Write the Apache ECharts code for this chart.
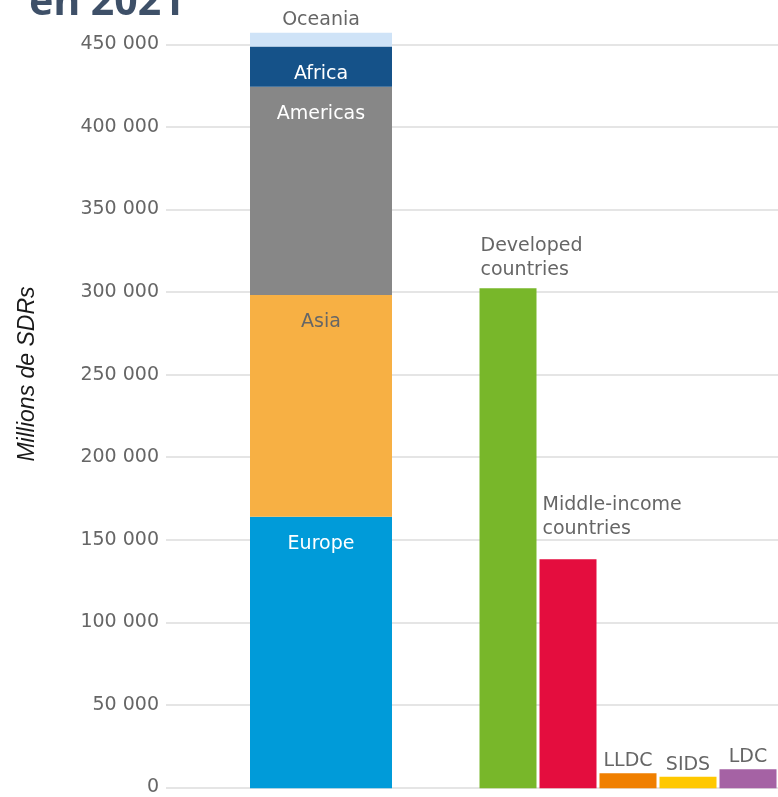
<!DOCTYPE html>
<html>
<head>
<meta charset="utf-8">
<script src="https://cdn.jsdelivr.net/npm/echarts@6/dist/echarts.min.js"></script>
<style>
  html, body { margin: 0; padding: 0; background: #ffffff; }
  #chart { width: 778px; height: 797px; }
</style>
</head>
<body>
<div id="chart"></div>
<script>
// SDR allocation in 2021 (millions of SDRs)

// Stacked regional breakdown (bottom to top)
const regionNames = ['Europe', 'Asia', 'Americas', 'Africa', 'Oceania'];
const regionValues = [164300, 134100, 126000, 24200, 8400];
const regionColors = ['#009bd9', '#f7b044', '#878787', '#155289', '#cfe3f7'];
const regionLabelColors = ['#ffffff', '#666666', '#ffffff', '#ffffff', '#666666'];

// Country groups
const groupNames = ['Developed\ncountries', 'Middle-income\ncountries', 'LLDC', 'SIDS', 'LDC'];
const groupValues = [302400, 138500, 9100, 7000, 11500];
const groupColors = ['#78b72a', '#e40d3e', '#f07f00', '#ffc800', '#a562a4'];

// Value axis ticks
const yMin = 0;
const yMax = 450000;
const yStep = 50000;

const titleText = 'en 2021';
const yAxisTitle = 'Millions de SDRs';

const labelFont = 'DejaVu Sans';
const textGrey = '#666666';

const chart = echarts.init(document.getElementById('chart'), null, { renderer: 'canvas' });

// grid 0: value axis + gridlines, grid 1: regional column, grid 2: country groups
const plotTop = 44.3;
const plotBottom = 8.7;

const regionSeries = regionNames.map((name, i) => ({
  name: name,
  type: 'bar',
  stack: 'regions',
  xAxisIndex: 1,
  yAxisIndex: 1,
  barWidth: '100%',
  clip: false,
  data: [regionValues[i]],
  itemStyle: { color: regionColors[i] },
  label: {
    show: true,
    formatter: name,
    position: i === regionNames.length - 1 ? 'top' : 'insideTop',
    distance: i === regionNames.length - 1 ? 3 : 18,
    color: regionLabelColors[i],
    fontFamily: labelFont,
    fontSize: 19
  }
}));

// label anchors for the two long group names sit above the bar's left edge
const groupLabel = (i) => {
  if (i === 0) {
    return { position: [1, -6], align: 'left', verticalAlign: 'bottom' };
  }
  if (i === 1) {
    return { position: [3, -18], align: 'left', verticalAlign: 'bottom' };
  }
  return { position: 'top', distance: 0 };
};

const groupSeries = {
  name: 'Groups',
  type: 'bar',
  xAxisIndex: 2,
  yAxisIndex: 2,
  barWidth: 57,
  data: groupValues.map((v, i) => ({
    value: v,
    itemStyle: { color: groupColors[i] },
    label: Object.assign({
      show: true,
      formatter: groupNames[i],
      color: textGrey,
      fontFamily: labelFont,
      fontSize: 19,
      lineHeight: 24
    }, groupLabel(i))
  }))
};

const hiddenX = {
  type: 'category',
  axisLine: { show: false },
  axisTick: { show: false },
  axisLabel: { show: false }
};

const hiddenY = {
  type: 'value',
  min: yMin,
  max: yMax,
  interval: yStep,
  show: false,
  splitLine: { show: false }
};

const option = {
  animation: false,
  backgroundColor: '#ffffff',
  grid: [
    { left: 166, right: 0, top: plotTop, bottom: plotBottom },
    { left: 250, right: 386, top: plotTop, bottom: plotBottom },
    { left: 478, right: -1, top: plotTop, bottom: plotBottom }
  ],
  xAxis: [
    Object.assign({ gridIndex: 0, data: [''] }, hiddenX),
    Object.assign({ gridIndex: 1, data: ['Regions'] }, hiddenX),
    Object.assign({ gridIndex: 2, data: groupNames }, hiddenX)
  ],
  yAxis: [
    {
      type: 'value',
      gridIndex: 0,
      min: yMin,
      max: yMax,
      interval: yStep,
      axisLine: { show: false },
      axisTick: { show: false },
      splitLine: { lineStyle: { color: '#dddddd', width: 1.5 } },
      axisLabel: {
        margin: 7,
        color: textGrey,
        fontFamily: labelFont,
        fontSize: 19,
        formatter: (v) => String(v).replace(/\B(?=(\d{3})+(?!\d))/g, ' ')
      }
    },
    Object.assign({ gridIndex: 1 }, hiddenY),
    Object.assign({ gridIndex: 2 }, hiddenY)
  ],
  graphic: [
    {
      type: 'text',
      left: 29,
      top: -17,
      style: {
        text: titleText,
        font: 'bold 41px "Noto Sans"',
        fill: '#3e5068'
      }
    },
    {
      type: 'text',
      x: 28,
      y: 374,
      rotation: Math.PI / 2,
      style: {
        text: yAxisTitle,
        font: 'italic 23px "Liberation Sans"',
        fill: '#1a1a1a',
        align: 'center',
        verticalAlign: 'middle'
      }
    }
  ],
  series: regionSeries.concat([groupSeries])
};

chart.setOption(option);
</script>
</body>
</html>
